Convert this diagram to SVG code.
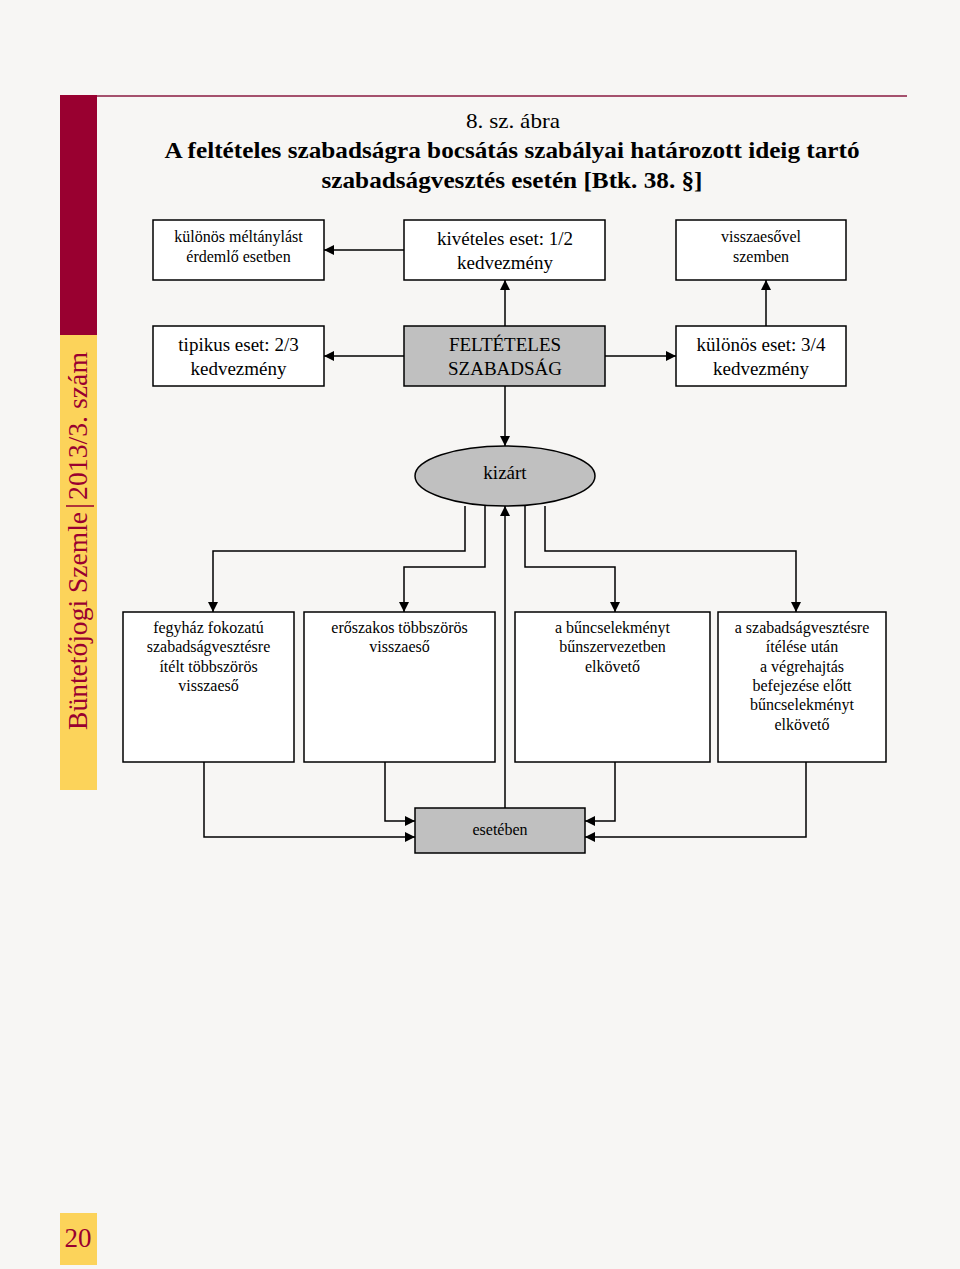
<svg xmlns="http://www.w3.org/2000/svg" width="960" height="1269" viewBox="0 0 960 1269">
<defs>
<marker id="ah" viewBox="0 0 10 10" refX="10" refY="5" markerWidth="10" markerHeight="10" markerUnits="userSpaceOnUse" orient="auto">
<path d="M0,0 L10,5 L0,10 z" fill="#000"/>
</marker>
<style>
.bx{fill:#fff;stroke:#000;stroke-width:1.5}
.gr{fill:#c0c0c0;stroke:#000;stroke-width:1.5}
.t{font-family:"Liberation Serif","Times New Roman",serif;fill:#000;text-anchor:middle}
.s{font-size:16px}
.m{font-size:19px}
.c{fill:none;stroke:#000;stroke-width:1.5;marker-end:url(#ah)}
.v{font-family:"Liberation Serif",serif;font-size:27px;fill:#990030;text-anchor:middle}
</style>
</defs>
<rect width="960" height="1269" fill="#f7f6f4"/>
<rect x="60" y="95" width="37" height="240" fill="#990030"/>
<rect x="60" y="335" width="37" height="455" fill="#fcd35a"/>
<line x1="97" y1="96" x2="907" y2="96" stroke="#8a1a40" stroke-width="1.5"/>
<text class="v" transform="translate(87,621) rotate(-90)" textLength="218" lengthAdjust="spacingAndGlyphs">Büntetőjogi Szemle</text>
<text class="v" transform="translate(87,426) rotate(-90)" textLength="148" lengthAdjust="spacingAndGlyphs">2013/3. szám</text>
<line x1="66" y1="506" x2="94" y2="506" stroke="#990030" stroke-width="1.5"/>
<rect x="60" y="1213" width="37" height="52" fill="#fcd35a"/>
<text x="78" y="1247" font-family="Liberation Serif, serif" font-size="27" fill="#990030" text-anchor="middle">20</text>

<g id="title">
<text class="t" x="513" y="128" font-size="22" textLength="94" lengthAdjust="spacingAndGlyphs">8. sz. ábra</text>
<text class="t" x="512" y="158" font-size="24" font-weight="bold" textLength="695" lengthAdjust="spacingAndGlyphs">A feltételes szabadságra bocsátás szabályai határozott ideig tartó</text>
<text class="t" x="512" y="188" font-size="24" font-weight="bold" textLength="381" lengthAdjust="spacingAndGlyphs">szabadságvesztés esetén [Btk. 38. §]</text>
</g>

<g id="connectors">
<line class="c" x1="404" y1="250" x2="324" y2="250"/>
<line class="c" x1="505" y1="326" x2="505" y2="280"/>
<line class="c" x1="766" y1="326" x2="766" y2="280"/>
<line class="c" x1="404" y1="356" x2="324" y2="356"/>
<line class="c" x1="605" y1="356" x2="676" y2="356"/>
<line class="c" x1="505" y1="386" x2="505" y2="446"/>
<polyline class="c" points="465,506 465,551 213,551 213,612"/>
<polyline class="c" points="485,506 485,567 404,567 404,612"/>
<polyline class="c" points="525,506 525,567 615,567 615,612"/>
<polyline class="c" points="545,506 545,551 796,551 796,612"/>
<line class="c" x1="505" y1="808" x2="505" y2="506"/>
<polyline class="c" points="204,762 204,837 415,837"/>
<polyline class="c" points="385,762 385,821 415,821"/>
<polyline class="c" points="615,762 615,821 585,821"/>
<polyline class="c" points="806,762 806,837 585,837"/>
</g>

<g id="n-meltanylast">
<rect class="bx" x="153" y="220" width="171" height="60"/>
<text class="t s" x="238.5" y="242">különös méltánylást</text>
<text class="t s" x="238.5" y="262">érdemlő esetben</text>
</g>
<g id="n-kiveteles">
<rect class="bx" x="404" y="220" width="201" height="60"/>
<text class="t m" x="505" y="245">kivételes eset: 1/2</text>
<text class="t m" x="505" y="269">kedvezmény</text>
</g>
<g id="n-visszaesovel">
<rect class="bx" x="676" y="220" width="170" height="60"/>
<text class="t s" x="761" y="242">visszaesővel</text>
<text class="t s" x="761" y="262">szemben</text>
</g>
<g id="n-tipikus">
<rect class="bx" x="153" y="326" width="171" height="60"/>
<text class="t m" x="238.5" y="351">tipikus eset: 2/3</text>
<text class="t m" x="238.5" y="375">kedvezmény</text>
</g>
<g id="n-felteteles">
<rect class="gr" x="404" y="326" width="201" height="60"/>
<text class="t m" x="505" y="351">FELTÉTELES</text>
<text class="t m" x="505" y="375">SZABADSÁG</text>
</g>
<g id="n-kulonos">
<rect class="bx" x="676" y="326" width="170" height="60"/>
<text class="t m" x="761" y="351">különös eset: 3/4</text>
<text class="t m" x="761" y="375">kedvezmény</text>
</g>
<g id="n-kizart">
<ellipse class="gr" cx="505" cy="476" rx="90" ry="30"/>
<text class="t m" x="505" y="479">kizárt</text>
</g>
<g id="n-fegyhaz">
<rect class="bx" x="123" y="612" width="171" height="150"/>
<text class="t s" x="208.5" y="633">fegyház fokozatú</text>
<text class="t s" x="208.5" y="652">szabadságvesztésre</text>
<text class="t s" x="208.5" y="672">ítélt többszörös</text>
<text class="t s" x="208.5" y="691">visszaeső</text>
</g>
<g id="n-eroszakos">
<rect class="bx" x="304" y="612" width="191" height="150"/>
<text class="t s" x="399.5" y="633">erőszakos többszörös</text>
<text class="t s" x="399.5" y="652">visszaeső</text>
</g>
<g id="n-buncselekmenyt">
<rect class="bx" x="515" y="612" width="195" height="150"/>
<text class="t s" x="612.5" y="633">a bűncselekményt</text>
<text class="t s" x="612.5" y="652">bűnszervezetben</text>
<text class="t s" x="612.5" y="672">elkövető</text>
</g>
<g id="n-vegrehajtas">
<rect class="bx" x="718" y="612" width="168" height="150"/>
<text class="t s" x="802" y="633">a szabadságvesztésre</text>
<text class="t s" x="802" y="652">ítélése után</text>
<text class="t s" x="802" y="672">a végrehajtás</text>
<text class="t s" x="802" y="691">befejezése előtt</text>
<text class="t s" x="802" y="710">bűncselekményt</text>
<text class="t s" x="802" y="730">elkövető</text>
</g>
<g id="n-eseteben">
<rect class="gr" x="415" y="808" width="170" height="45"/>
<text class="t s" x="500" y="835">esetében</text>
</g>
</svg>
